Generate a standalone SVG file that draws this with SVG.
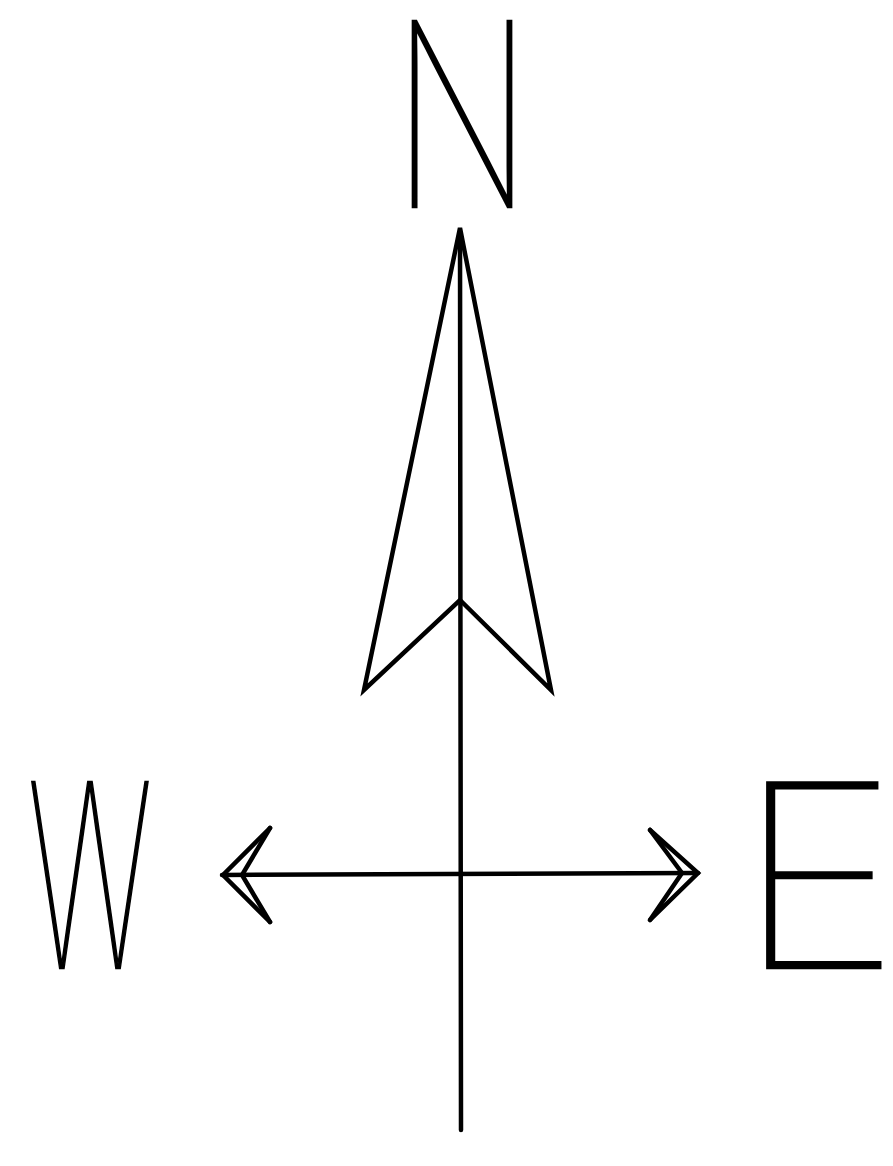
<svg xmlns="http://www.w3.org/2000/svg" width="893" height="1166" viewBox="0 0 893 1166">
  <style>
    .ln { fill: none; stroke: #000; stroke-width: 4.5; stroke-linejoin: miter; stroke-linecap: round; }
    .lbl { font-family: Inter, "Liberation Sans", sans-serif; font-weight: 100; fill: #000; stroke: #000; stroke-width: 2.5; }
  </style>
  <rect width="893" height="1166" fill="#fff"/>
  <g id="connectors">
    <line class="ln" x1="460" y1="232" x2="461" y2="1130"/>
    <line class="ln" x1="222" y1="875" x2="698" y2="873"/>
  </g>
  <g id="north-arrow">
    <polygon class="ln" points="460,228 551,690 460,600 364,690"/>
  </g>
  <g id="west-arrowhead">
    <polyline class="ln" points="270,828 223,875 270,922"/>
    <polyline class="ln" points="270,828 242,875 270,922"/>
  </g>
  <g id="east-arrowhead">
    <polyline class="ln" points="650,830 698,873 650,920"/>
    <polyline class="ln" points="650,830 682,873 650,920"/>
  </g>
  <g id="label-N">
    <text class="lbl" x="462" y="207" font-size="255" text-anchor="middle" textLength="140" lengthAdjust="spacingAndGlyphs">N</text>
  </g>
  <g id="label-W">
    <text class="lbl" x="90" y="968" font-size="255" text-anchor="middle" textLength="125" lengthAdjust="spacingAndGlyphs" font-family="Lato, sans-serif">W</text>
  </g>
  <g id="label-E">
    <text class="lbl" x="818" y="968" font-size="255" text-anchor="middle" textLength="165" lengthAdjust="spacingAndGlyphs">E</text>
  </g>
</svg>
